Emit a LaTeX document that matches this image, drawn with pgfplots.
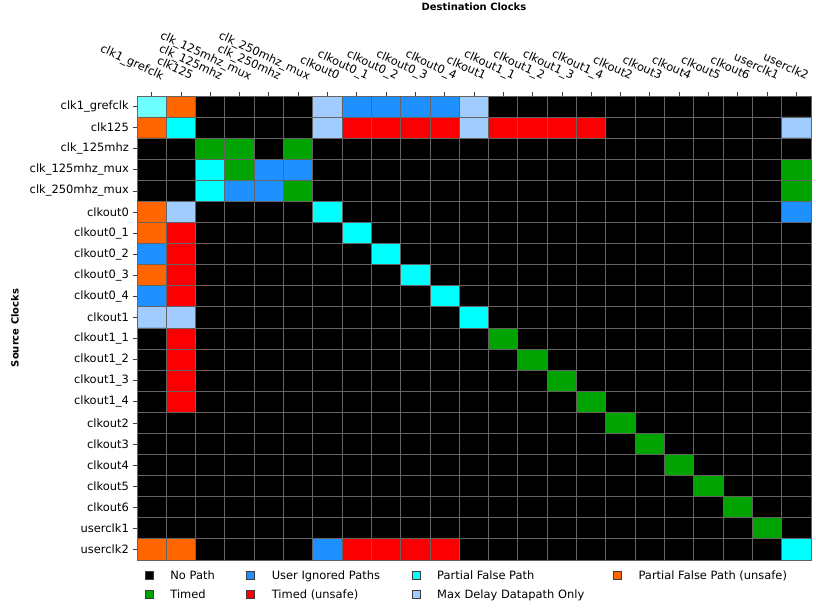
\documentclass[border=0pt]{standalone}
\usepackage{pgfplots}
\pgfplotsset{compat=1.18}
\usepackage{fontspec}
\setmainfont{DejaVu Sans}
\definecolor{cgreen}{RGB}{0,163,0}
\definecolor{cblue}{RGB}{30,144,255}
\definecolor{cred}{RGB}{250,0,0}
\definecolor{ccyan}{RGB}{0,255,255}
\definecolor{clblue}{RGB}{160,204,255}
\definecolor{corange}{RGB}{255,102,0}
\definecolor{cgrid}{RGB}{100,100,100}
\definecolor{cborder}{RGB}{60,60,60}
\begin{document}
\begin{tikzpicture}
\useasboundingbox (0,0) rectangle (816bp,609bp);
\begin{axis}[
  at={(137bp,49bp)}, anchor=south west, scale only axis,
  width=674bp, height=464bp,
  xmin=-0.5, xmax=22.5, ymin=-0.5, ymax=21.5, y dir=reverse,
  colormap={clk}{rgb255=(0,0,0) rgb255=(0,163,0) rgb255=(30,144,255) rgb255=(250,0,0) rgb255=(0,255,255) rgb255=(160,204,255) rgb255=(255,102,0) rgb255=(110,255,255)},
  colormap access=direct,
  xtick={0,...,22}, ytick={0,...,21},
  xticklabels={clk1\_grefclk, clk125, clk\_125mhz, clk\_125mhz\_mux, clk\_250mhz, clk\_250mhz\_mux, clkout0, clkout0\_1, clkout0\_2, clkout0\_3, clkout0\_4, clkout1, clkout1\_1, clkout1\_2, clkout1\_3, clkout1\_4, clkout2, clkout3, clkout4, clkout5, clkout6, userclk1, userclk2},
  yticklabels={clk1\_grefclk, clk125, clk\_125mhz, clk\_125mhz\_mux, clk\_250mhz\_mux, clkout0, clkout0\_1, clkout0\_2, clkout0\_3, clkout0\_4, clkout1, clkout1\_1, clkout1\_2, clkout1\_3, clkout1\_4, clkout2, clkout3, clkout4, clkout5, clkout6, userclk1, userclk2},
  xtick pos=right, xticklabel pos=right, ytick pos=left,
  tick align=outside, major tick length=4bp,
  tick style={cborder, line width=0.8bp},
  minor xtick={-0.5,0.5,...,22.5}, minor ytick={-0.5,0.5,...,21.5},
  minor tick length=0pt,
  xminorgrids, yminorgrids,
  minor grid style={cgrid, line width=1bp},
  axis on top,
  axis line style={cgrid, line width=1bp},
  ticklabel style={font=\fontsize{11.5}{13}\selectfont},
  xticklabel style={rotate=-25, anchor=base east, inner sep=0pt, xshift=4bp, yshift=15bp},
  yticklabel style={inner sep=0pt, xshift=-4bp},
  title={Destination Clocks},
  title style={at={(axis description cs:0.5,1)}, anchor=base, yshift=80bp, font=\fontsize{10}{12}\selectfont\bfseries},
  ylabel={Source Clocks},
  ylabel style={at={(axis description cs:0,0.5)}, anchor=center, yshift=122bp, font=\fontsize{10}{12}\selectfont\bfseries},
  legend image code/.code={\draw[#1] (0bp,0.5bp) rectangle (8bp,8bp); \path (25bp,0bp);},
  legend columns=4,
  legend style={at={(axis description cs:0,0)}, anchor=north west, xshift=8bp, yshift=-11bp,
    draw=none, fill=none, inner sep=0pt, outer sep=0pt, column sep=0pt, row sep=8bp,
    font=\fontsize{11.5}{13}\selectfont,
    nodes={inner sep=0pt, anchor=base west, text height=8bp, text depth=3bp}},
]
\addplot[matrix plot*, mesh/cols=23, point meta=explicit, forget plot] coordinates {
(0,0)[7] (1,0)[6] (2,0)[0] (3,0)[0] (4,0)[0] (5,0)[0] (6,0)[5] (7,0)[2] (8,0)[2] (9,0)[2] (10,0)[2] (11,0)[5] (12,0)[0] (13,0)[0] (14,0)[0] (15,0)[0] (16,0)[0] (17,0)[0] (18,0)[0] (19,0)[0] (20,0)[0] (21,0)[0] (22,0)[0]
(0,1)[6] (1,1)[4] (2,1)[0] (3,1)[0] (4,1)[0] (5,1)[0] (6,1)[5] (7,1)[3] (8,1)[3] (9,1)[3] (10,1)[3] (11,1)[5] (12,1)[3] (13,1)[3] (14,1)[3] (15,1)[3] (16,1)[0] (17,1)[0] (18,1)[0] (19,1)[0] (20,1)[0] (21,1)[0] (22,1)[5]
(0,2)[0] (1,2)[0] (2,2)[1] (3,2)[1] (4,2)[0] (5,2)[1] (6,2)[0] (7,2)[0] (8,2)[0] (9,2)[0] (10,2)[0] (11,2)[0] (12,2)[0] (13,2)[0] (14,2)[0] (15,2)[0] (16,2)[0] (17,2)[0] (18,2)[0] (19,2)[0] (20,2)[0] (21,2)[0] (22,2)[0]
(0,3)[0] (1,3)[0] (2,3)[4] (3,3)[1] (4,3)[2] (5,3)[2] (6,3)[0] (7,3)[0] (8,3)[0] (9,3)[0] (10,3)[0] (11,3)[0] (12,3)[0] (13,3)[0] (14,3)[0] (15,3)[0] (16,3)[0] (17,3)[0] (18,3)[0] (19,3)[0] (20,3)[0] (21,3)[0] (22,3)[1]
(0,4)[0] (1,4)[0] (2,4)[4] (3,4)[2] (4,4)[2] (5,4)[1] (6,4)[0] (7,4)[0] (8,4)[0] (9,4)[0] (10,4)[0] (11,4)[0] (12,4)[0] (13,4)[0] (14,4)[0] (15,4)[0] (16,4)[0] (17,4)[0] (18,4)[0] (19,4)[0] (20,4)[0] (21,4)[0] (22,4)[1]
(0,5)[6] (1,5)[5] (2,5)[0] (3,5)[0] (4,5)[0] (5,5)[0] (6,5)[4] (7,5)[0] (8,5)[0] (9,5)[0] (10,5)[0] (11,5)[0] (12,5)[0] (13,5)[0] (14,5)[0] (15,5)[0] (16,5)[0] (17,5)[0] (18,5)[0] (19,5)[0] (20,5)[0] (21,5)[0] (22,5)[2]
(0,6)[6] (1,6)[3] (2,6)[0] (3,6)[0] (4,6)[0] (5,6)[0] (6,6)[0] (7,6)[4] (8,6)[0] (9,6)[0] (10,6)[0] (11,6)[0] (12,6)[0] (13,6)[0] (14,6)[0] (15,6)[0] (16,6)[0] (17,6)[0] (18,6)[0] (19,6)[0] (20,6)[0] (21,6)[0] (22,6)[0]
(0,7)[2] (1,7)[3] (2,7)[0] (3,7)[0] (4,7)[0] (5,7)[0] (6,7)[0] (7,7)[0] (8,7)[4] (9,7)[0] (10,7)[0] (11,7)[0] (12,7)[0] (13,7)[0] (14,7)[0] (15,7)[0] (16,7)[0] (17,7)[0] (18,7)[0] (19,7)[0] (20,7)[0] (21,7)[0] (22,7)[0]
(0,8)[6] (1,8)[3] (2,8)[0] (3,8)[0] (4,8)[0] (5,8)[0] (6,8)[0] (7,8)[0] (8,8)[0] (9,8)[4] (10,8)[0] (11,8)[0] (12,8)[0] (13,8)[0] (14,8)[0] (15,8)[0] (16,8)[0] (17,8)[0] (18,8)[0] (19,8)[0] (20,8)[0] (21,8)[0] (22,8)[0]
(0,9)[2] (1,9)[3] (2,9)[0] (3,9)[0] (4,9)[0] (5,9)[0] (6,9)[0] (7,9)[0] (8,9)[0] (9,9)[0] (10,9)[4] (11,9)[0] (12,9)[0] (13,9)[0] (14,9)[0] (15,9)[0] (16,9)[0] (17,9)[0] (18,9)[0] (19,9)[0] (20,9)[0] (21,9)[0] (22,9)[0]
(0,10)[5] (1,10)[5] (2,10)[0] (3,10)[0] (4,10)[0] (5,10)[0] (6,10)[0] (7,10)[0] (8,10)[0] (9,10)[0] (10,10)[0] (11,10)[4] (12,10)[0] (13,10)[0] (14,10)[0] (15,10)[0] (16,10)[0] (17,10)[0] (18,10)[0] (19,10)[0] (20,10)[0] (21,10)[0] (22,10)[0]
(0,11)[0] (1,11)[3] (2,11)[0] (3,11)[0] (4,11)[0] (5,11)[0] (6,11)[0] (7,11)[0] (8,11)[0] (9,11)[0] (10,11)[0] (11,11)[0] (12,11)[1] (13,11)[0] (14,11)[0] (15,11)[0] (16,11)[0] (17,11)[0] (18,11)[0] (19,11)[0] (20,11)[0] (21,11)[0] (22,11)[0]
(0,12)[0] (1,12)[3] (2,12)[0] (3,12)[0] (4,12)[0] (5,12)[0] (6,12)[0] (7,12)[0] (8,12)[0] (9,12)[0] (10,12)[0] (11,12)[0] (12,12)[0] (13,12)[1] (14,12)[0] (15,12)[0] (16,12)[0] (17,12)[0] (18,12)[0] (19,12)[0] (20,12)[0] (21,12)[0] (22,12)[0]
(0,13)[0] (1,13)[3] (2,13)[0] (3,13)[0] (4,13)[0] (5,13)[0] (6,13)[0] (7,13)[0] (8,13)[0] (9,13)[0] (10,13)[0] (11,13)[0] (12,13)[0] (13,13)[0] (14,13)[1] (15,13)[0] (16,13)[0] (17,13)[0] (18,13)[0] (19,13)[0] (20,13)[0] (21,13)[0] (22,13)[0]
(0,14)[0] (1,14)[3] (2,14)[0] (3,14)[0] (4,14)[0] (5,14)[0] (6,14)[0] (7,14)[0] (8,14)[0] (9,14)[0] (10,14)[0] (11,14)[0] (12,14)[0] (13,14)[0] (14,14)[0] (15,14)[1] (16,14)[0] (17,14)[0] (18,14)[0] (19,14)[0] (20,14)[0] (21,14)[0] (22,14)[0]
(0,15)[0] (1,15)[0] (2,15)[0] (3,15)[0] (4,15)[0] (5,15)[0] (6,15)[0] (7,15)[0] (8,15)[0] (9,15)[0] (10,15)[0] (11,15)[0] (12,15)[0] (13,15)[0] (14,15)[0] (15,15)[0] (16,15)[1] (17,15)[0] (18,15)[0] (19,15)[0] (20,15)[0] (21,15)[0] (22,15)[0]
(0,16)[0] (1,16)[0] (2,16)[0] (3,16)[0] (4,16)[0] (5,16)[0] (6,16)[0] (7,16)[0] (8,16)[0] (9,16)[0] (10,16)[0] (11,16)[0] (12,16)[0] (13,16)[0] (14,16)[0] (15,16)[0] (16,16)[0] (17,16)[1] (18,16)[0] (19,16)[0] (20,16)[0] (21,16)[0] (22,16)[0]
(0,17)[0] (1,17)[0] (2,17)[0] (3,17)[0] (4,17)[0] (5,17)[0] (6,17)[0] (7,17)[0] (8,17)[0] (9,17)[0] (10,17)[0] (11,17)[0] (12,17)[0] (13,17)[0] (14,17)[0] (15,17)[0] (16,17)[0] (17,17)[0] (18,17)[1] (19,17)[0] (20,17)[0] (21,17)[0] (22,17)[0]
(0,18)[0] (1,18)[0] (2,18)[0] (3,18)[0] (4,18)[0] (5,18)[0] (6,18)[0] (7,18)[0] (8,18)[0] (9,18)[0] (10,18)[0] (11,18)[0] (12,18)[0] (13,18)[0] (14,18)[0] (15,18)[0] (16,18)[0] (17,18)[0] (18,18)[0] (19,18)[1] (20,18)[0] (21,18)[0] (22,18)[0]
(0,19)[0] (1,19)[0] (2,19)[0] (3,19)[0] (4,19)[0] (5,19)[0] (6,19)[0] (7,19)[0] (8,19)[0] (9,19)[0] (10,19)[0] (11,19)[0] (12,19)[0] (13,19)[0] (14,19)[0] (15,19)[0] (16,19)[0] (17,19)[0] (18,19)[0] (19,19)[0] (20,19)[1] (21,19)[0] (22,19)[0]
(0,20)[0] (1,20)[0] (2,20)[0] (3,20)[0] (4,20)[0] (5,20)[0] (6,20)[0] (7,20)[0] (8,20)[0] (9,20)[0] (10,20)[0] (11,20)[0] (12,20)[0] (13,20)[0] (14,20)[0] (15,20)[0] (16,20)[0] (17,20)[0] (18,20)[0] (19,20)[0] (20,20)[0] (21,20)[1] (22,20)[0]
(0,21)[6] (1,21)[6] (2,21)[0] (3,21)[0] (4,21)[0] (5,21)[0] (6,21)[2] (7,21)[3] (8,21)[3] (9,21)[3] (10,21)[3] (11,21)[0] (12,21)[0] (13,21)[0] (14,21)[0] (15,21)[0] (16,21)[0] (17,21)[0] (18,21)[0] (19,21)[0] (20,21)[0] (21,21)[0] (22,21)[4]
};
\addlegendimage{fill=black, draw=cborder}
\addlegendentry{\makebox[76bp][l]{No Path}}
\addlegendimage{fill=cblue, draw=cborder}
\addlegendentry{\makebox[140bp][l]{User Ignored Paths}}
\addlegendimage{fill=ccyan, draw=cborder}
\addlegendentry{\makebox[176bp][l]{Partial False Path}}
\addlegendimage{fill=corange, draw=cborder}
\addlegendentry{Partial False Path (unsafe)}
\addlegendimage{fill=cgreen, draw=cborder}
\addlegendentry{\makebox[76bp][l]{Timed}}
\addlegendimage{fill=cred, draw=cborder}
\addlegendentry{\makebox[140bp][l]{Timed (unsafe)}}
\addlegendimage{fill=clblue, draw=cborder}
\addlegendentry{\makebox[176bp][l]{Max Delay Datapath Only}}
\end{axis}
\end{tikzpicture}
\end{document}
